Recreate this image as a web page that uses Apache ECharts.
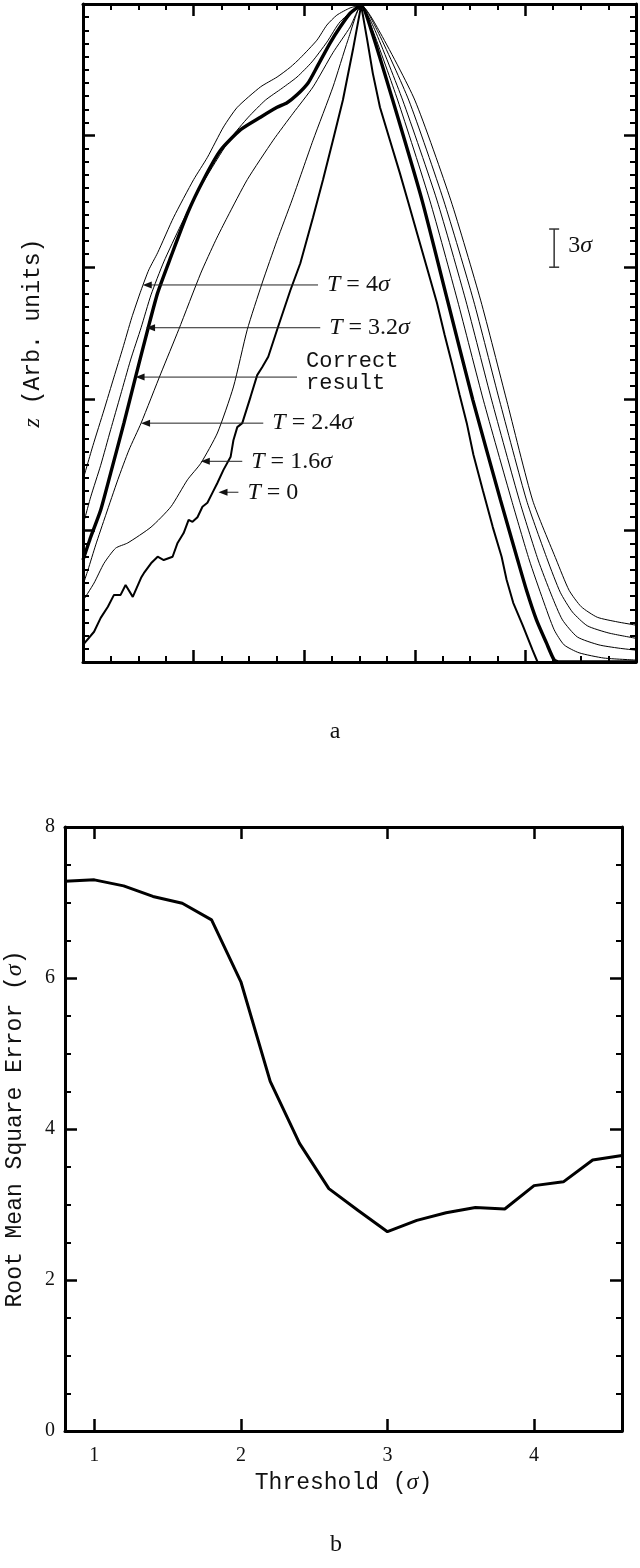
<!DOCTYPE html>
<html>
<head>
<meta charset="utf-8">
<script src="https://cdn.jsdelivr.net/npm/echarts@6.0.0/dist/echarts.min.js"></script>
<style>
  html, body { margin: 0; padding: 0; background: #fff; }
  #main { width: 640px; height: 1568px; }
</style>
</head>
<body>
<div id="main"></div>
<script>
const SERIF = "'Liberation Serif','DejaVu Serif',serif";
const MONO = "'Liberation Mono','DejaVu Sans Mono',monospace";

// ---- panel a: reconstructed profiles, arbitrary units (x 0-100, z 0-100)
const profT4 = [[0,27.7],[1.8,32.9],[3.8,38.3],[5.6,43.3],[7.2,47.7],[8.8,52.3],[10.5,56.5],[11.9,59.6],[13.5,62.2],[16.4,67.6],[20.0,73.3],[22.5,76.7],[25.4,81.3],[27.9,84.3],[32.1,87.4],[35.1,88.9],[37.5,90.4],[39.3,91.8],[42.3,94.5],[44.1,96.8],[45.9,98.3],[48.3,99.4],[50.3,99.8],[53.5,96.0],[60.0,85.4],[66.5,70.2],[71.9,55.0],[76.6,39.8],[81.3,24.6],[85.6,15.5],[87.9,10.9],[90.1,8.4],[93.0,6.8],[96.6,6.1],[100,5.6]];
const profT32 = [[0,20.8],[1.4,25.1],[3.2,29.9],[5.0,35.3],[6.8,40.6],[8.6,45.9],[10.5,50.8],[12.3,55.8],[14.6,60.8],[17.7,66.4],[20.7,71.4],[23.6,75.5],[26.7,79.6],[29.9,82.8],[33.0,85.4],[36.0,87.2],[38.7,88.9],[41.4,91.2],[44.1,94.2],[46.5,97.3],[50.3,99.8],[53.2,96.0],[58.9,85.4],[65.2,70.2],[70.6,55.0],[75.3,39.8],[80.2,24.6],[84.0,15.5],[86.3,10.6],[88.5,7.6],[91.2,5.5],[95.1,4.4],[100,3.6]];
const profT24 = [[0,11.7],[0.9,14.0],[2.3,17.8],[4.1,22.3],[6.3,27.7],[8.3,32.2],[10.5,36.3],[14.1,43.9],[17.3,50.5],[21.3,59.1],[24.0,64.1],[26.1,67.6],[29.7,73.3],[34.4,79.3],[38.0,83.4],[41.6,87.4],[45.2,92.6],[48.3,96.5],[50.3,99.8],[52.8,96.0],[57.8,85.4],[64.0,70.2],[69.2,55.0],[73.9,39.8],[78.9,24.6],[82.3,15.5],[84.7,10.2],[86.7,6.4],[89.4,3.8],[93.3,2.6],[96.9,2.1],[100,1.8]];
const profT16 = [[0,9.3],[2.0,12.0],[3.8,15.0],[5.9,17.3],[8.1,18.1],[12.3,20.5],[15.9,23.6],[18.9,27.7],[21.3,30.2],[24.3,34.8],[27.2,41.8],[29.7,50.5],[32.4,57.6],[35.1,64.1],[37.8,70.2],[41.6,79.3],[45.2,87.4],[47.9,94.5],[50.3,99.8],[52.4,96.0],[56.9,85.4],[62.7,70.2],[67.7,55.0],[72.4,39.8],[77.5,24.6],[80.7,15.5],[83.2,9.4],[85.2,4.9],[87.0,2.6],[89.7,1.4],[94.2,0.6],[100,0.3]];
const profT0 = [[0,2.6],[2.0,4.6],[3.2,6.7],[4.5,8.4],[5.6,10.2],[6.8,10.2],[7.7,11.7],[9.0,9.9],[10.5,12.8],[11.0,13.5],[12.3,15.0],[13.5,16.0],[14.6,15.5],[16.2,16.0],[17.1,18.1],[18.2,19.6],[19.1,21.6],[19.8,21.3],[20.7,22.0],[21.6,23.6],[22.5,24.2],[23.4,25.7],[24.3,27.2],[25.4,29.2],[26.7,31.2],[27.2,33.7],[27.9,35.7],[28.8,36.3],[30.3,40.3],[31.5,43.6],[32.4,44.8],[33.5,46.4],[35.1,50.5],[37.5,56.5],[39.3,60.6],[41.6,67.6],[43.4,73.3],[45.2,79.3],[47.0,85.4],[48.8,93.0],[50.3,99.8],[51.4,94.5],[52.4,89.5],[53.7,84.3],[55.5,79.3],[57.3,74.3],[58.7,70.2],[60.5,64.9],[62.3,59.6],[64.0,54.6],[65.4,49.7],[66.8,45.1],[68.1,40.6],[69.4,36.3],[70.6,31.5],[72.3,26.1],[74.1,20.5],[75.7,16.0],[76.6,12.5],[77.8,9.0],[79.5,5.6],[81.3,1.8],[82.2,0]];
const profCorrect = [[0,15.5],[1.4,19.0],[3.2,23.1],[5.0,28.7],[7.4,36.3],[9.5,43.3],[11.7,50.5],[13.5,56.1],[15.9,61.6],[18.9,68.2],[21.8,73.3],[24.9,77.8],[28.5,80.9],[32.1,82.8],[35.1,84.3],[36.9,85.0],[38.7,86.2],[40.7,88.0],[42.3,90.4],[44.7,94.1],[46.5,96.5],[48.3,98.6],[50.3,99.8],[52.1,96.1],[56.0,85.4],[61.3,70.2],[65.9,55.0],[70.5,39.8],[75.5,24.6],[78.6,15.5],[80.2,10.9],[82.0,6.4],[83.8,2.9],[85.2,0.3],[86.1,0],[100,0]];

// arrow annotations: label, height, arrow tip, arrow tail
const annoLabels = ['{i|T} = 4{i|σ}', '{i|T} = 3.2{i|σ}', '{tt|Correct}\n{tt|result}', '{i|T} = 2.4{i|σ}', '{i|T} = 1.6{i|σ}', '{i|T} = 0'];
const annoY = [57.3, 50.8, 43.3, 36.3, 30.5, 25.8];
const annoTip = [10.8, 11.4, 9.5, 10.5, 21.3, 24.5];
const annoTail = [42.5, 42.9, 38.7, 32.6, 28.8, 28.1];

// 3 sigma scale bar: x, z bottom, z top
const scaleBar = [[85.2, 60.0, 65.8]];
const scaleLabel = '3{i|σ}';

// ---- panel b
const threshold = [0.8, 1.0, 1.2, 1.4, 1.6, 1.8, 2.0, 2.2, 2.4, 2.6, 2.8, 3.0, 3.2, 3.4, 3.6, 3.8, 4.0, 4.2, 4.4, 4.6];
const rmsError = [7.28, 7.30, 7.22, 7.08, 6.99, 6.77, 5.95, 4.63, 3.81, 3.21, 2.92, 2.64, 2.79, 2.89, 2.96, 2.94, 3.25, 3.30, 3.59, 3.65];
const thresholdTicks = [1, 2, 3, 4];

const rich = {
  i: { fontFamily: SERIF, fontStyle: 'italic', fontSize: 24, color: '#111', fill: '#111' },
  tt: { fontFamily: MONO, fontSize: 22, lineHeight: 22, color: '#111', fill: '#111' }
};

const lineAx = { show: true, onZero: false, lineStyle: { color: '#000', width: 3 } };
const tickAx = { show: true, inside: true, length: 12, lineStyle: { color: '#000', width: 2.5 } };

const chart = echarts.init(document.getElementById('main'));

function profile(data, width, smooth) {
  return {
    type: 'line', xAxisIndex: 0, yAxisIndex: 0, data: data,
    symbol: 'none', smooth: smooth, silent: true,
    lineStyle: { color: '#000', width: width }, z: width > 2 ? 5 : 3
  };
}

const option = {
  animation: false,
  backgroundColor: '#fff',
  grid: [
    { left: 83, right: 4, top: 4, bottom: 906, outerBoundsMode: 'none' },
    { left: 65, right: 18, top: 827, bottom: 137, outerBoundsMode: 'none' }
  ],
  xAxis: [
    { gridIndex: 0, type: 'value', min: 0, max: 100, interval: 20, position: 'bottom',
      axisLine: lineAx, axisTick: tickAx, axisLabel: { show: false }, splitLine: { show: false },
      minorTick: { show: true, splitNumber: 4, length: 6, lineStyle: { color: '#000', width: 2 } } },
    { gridIndex: 0, type: 'value', min: 0, max: 100, interval: 20, position: 'top',
      axisLine: lineAx, axisTick: tickAx, axisLabel: { show: false }, splitLine: { show: false },
      minorTick: { show: true, splitNumber: 4, length: 6, lineStyle: { color: '#000', width: 2 } } },
    { gridIndex: 1, type: 'value', min: 0.8, max: 4.6, position: 'bottom',
      axisLine: lineAx, axisTick: Object.assign({ customValues: thresholdTicks }, tickAx),
      axisLabel: { customValues: thresholdTicks, fontFamily: SERIF, fontSize: 20, color: '#111', margin: 15 },
      splitLine: { show: false },
      name: 'Threshold ({i|σ})', nameLocation: 'middle', nameGap: 40,
      nameTextStyle: { fontFamily: MONO, fontSize: 23, color: '#111', rich: rich } },
    { gridIndex: 1, type: 'value', min: 0.8, max: 4.6, position: 'top',
      axisLine: lineAx, axisTick: Object.assign({ customValues: thresholdTicks }, tickAx),
      axisLabel: { show: false }, splitLine: { show: false } }
  ],
  yAxis: [
    { gridIndex: 0, type: 'value', min: 0, max: 100, interval: 20, position: 'left',
      axisLine: lineAx, axisTick: tickAx, axisLabel: { show: false }, splitLine: { show: false },
      minorTick: { show: true, splitNumber: 10, length: 6, lineStyle: { color: '#000', width: 2 } },
      name: '{i|z} (Arb. units)', nameLocation: 'middle', nameRotate: 90, nameGap: 38,
      nameTextStyle: { fontFamily: MONO, fontSize: 23, color: '#111', rich: rich } },
    { gridIndex: 0, type: 'value', min: 0, max: 100, interval: 20, position: 'right',
      axisLine: lineAx, axisTick: tickAx, axisLabel: { show: false }, splitLine: { show: false },
      minorTick: { show: true, splitNumber: 10, length: 6, lineStyle: { color: '#000', width: 2 } } },
    { gridIndex: 1, type: 'value', min: 0, max: 8, interval: 2, position: 'left',
      axisLine: lineAx, axisTick: tickAx,
      axisLabel: { fontFamily: SERIF, fontSize: 20, color: '#111', margin: 10 },
      splitLine: { show: false },
      minorTick: { show: true, splitNumber: 4, length: 6, lineStyle: { color: '#000', width: 2 } },
      name: 'Root Mean Square Error ({i|σ})', nameLocation: 'middle', nameRotate: 90, nameGap: 38,
      nameTextStyle: { fontFamily: MONO, fontSize: 23, color: '#111', rich: rich } },
    { gridIndex: 1, type: 'value', min: 0, max: 8, interval: 2, position: 'right',
      axisLine: lineAx, axisTick: tickAx, axisLabel: { show: false }, splitLine: { show: false },
      minorTick: { show: true, splitNumber: 4, length: 6, lineStyle: { color: '#000', width: 2 } } }
  ],
  graphic: [
    { type: 'text', x: 335, y: 732, style: { text: 'a', fontFamily: SERIF, fontSize: 24, fill: '#111', align: 'center', verticalAlign: 'middle' } },
    { type: 'text', x: 336, y: 1545, style: { text: 'b', fontFamily: SERIF, fontSize: 24, fill: '#111', align: 'center', verticalAlign: 'middle' } }
  ],
  series: [
    profile(profT4, 1, 0.2),
    profile(profT32, 1, 0.2),
    profile(profT24, 1, 0.2),
    profile(profT16, 1, 0.2),
    profile(profT0, 2, false),
    profile(profCorrect, 3.4, 0.2),
    {
      type: 'custom', xAxisIndex: 0, yAxisIndex: 0, silent: true, clip: false, z: 6,
      data: annoY.map((y, i) => [annoTip[i], annoTail[i], y, i]),
      encode: { x: [0, 1], y: 2 },
      renderItem: function (params, api) {
        const tip = api.coord([api.value(0), api.value(2)]);
        const tail = api.coord([api.value(1), api.value(2)]);
        const label = annoLabels[api.value(3)];
        const dy = label.indexOf('\n') >= 0 ? -5 : 0;
        return {
          type: 'group',
          children: [
            { type: 'line', shape: { x1: tail[0], y1: tail[1], x2: tip[0] + 6, y2: tip[1] },
              style: { stroke: '#222', lineWidth: 1 } },
            { type: 'polygon', shape: { points: [[tip[0], tip[1]], [tip[0] + 9, tip[1] - 3.5], [tip[0] + 9, tip[1] + 3.5]] },
              style: { fill: '#111' } },
            { type: 'text', x: tail[0] + 9, y: tail[1] + dy,
              style: { text: label, fontFamily: SERIF, fontSize: 24, fill: '#111', align: 'left', verticalAlign: 'middle', rich: rich } }
          ]
        };
      }
    },
    {
      type: 'custom', xAxisIndex: 0, yAxisIndex: 0, silent: true, clip: false, z: 6,
      data: scaleBar,
      encode: { x: 0, y: [1, 2] },
      renderItem: function (params, api) {
        const lo = api.coord([api.value(0), api.value(1)]);
        const hi = api.coord([api.value(0), api.value(2)]);
        const st = { stroke: '#333', lineWidth: 1.5 };
        return {
          type: 'group',
          children: [
            { type: 'line', shape: { x1: lo[0], y1: lo[1], x2: hi[0], y2: hi[1] }, style: st },
            { type: 'line', shape: { x1: lo[0] - 5, y1: lo[1], x2: lo[0] + 5, y2: lo[1] }, style: st },
            { type: 'line', shape: { x1: hi[0] - 5, y1: hi[1], x2: hi[0] + 5, y2: hi[1] }, style: st },
            { type: 'text', x: lo[0] + 14, y: (lo[1] + hi[1]) / 2 - 2,
              style: { text: scaleLabel, fontFamily: SERIF, fontSize: 24, fill: '#111', align: 'left', verticalAlign: 'middle', rich: rich } }
          ]
        };
      }
    },
    {
      type: 'line', xAxisIndex: 2, yAxisIndex: 2, symbol: 'none', silent: true,
      data: threshold.map((t, i) => [t, rmsError[i]]),
      lineStyle: { color: '#000', width: 3 }
    }
  ]
};

chart.setOption(option);
</script>
</body>
</html>
